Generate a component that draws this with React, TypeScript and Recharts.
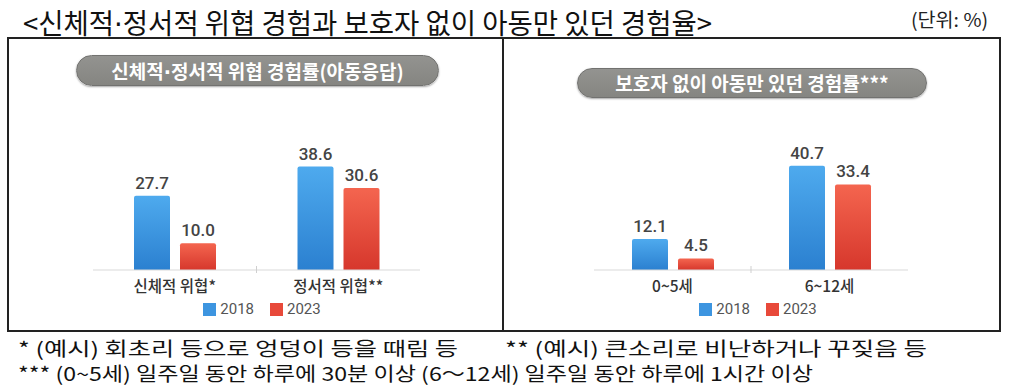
import React from 'react';
import { BarChart, Bar, XAxis, YAxis, LabelList, Legend } from 'recharts';

const years = ['2018', '2023'];
const seriesColors = ['#3d95e0', '#e8493a'];

const leftCategories = ['신체적 위협*', '정서적 위협**'];
const left2018 = [27.7, 38.6];
const left2023 = [10.0, 30.6];

const rightCategories = ['0~5세', '6~12세'];
const right2018 = [12.1, 40.7];
const right2023 = [4.5, 33.4];

const yDomain = [0, 50];

const titleParts = ['<신체적', '·', '정서적 위협 경험과 보호자 없이 아동만 있던 경험율>'];
const unitText = '(단위: %)';
const leftPanelTitleParts = ['신체적', '·', '정서적 위협 경험률(아동응답)'];
const rightPanelTitle = '보호자 없이 아동만 있던 경험률***';
const note1a = '* (예시) 회초리 등으로 엉덩이 등을 때림 등';
const note1b = '** (예시) 큰소리로 비난하거나 꾸짖음 등';
const note2 = '*** (0~5세) 일주일 동안 하루에 30분 이상 (6～12세) 일주일 동안 하루에 1시간 이상';

const KR = '"Noto Sans CJK KR", "Noto Sans", sans-serif';
const DOTFONT = '"DejaVu Sans", sans-serif';

const buildRows = (cats: string[], a: number[], b: number[]) =>
  cats.map((name, i) => ({ name, y2018: a[i], y2023: b[i] }));

const CatTick = (props: any) => {
  const { x, y, payload, index } = props;
  const off = payload && typeof payload.offset === 'number' ? payload.offset : null;
  return (
    <g>
      <text
        x={x}
        y={y + 22}
        textAnchor="middle"
        fontFamily={KR}
        fontSize={15.5}
        fontWeight={500}
        fill="#333"
      >
        {payload.value}
      </text>
      {index === 0 && off !== null ? (
        <line x1={x + off} x2={x + off} y1={y - 4} y2={y + 3} stroke="#cfcfcf" strokeWidth={1} />
      ) : null}
    </g>
  );
};

const LegendContent = (shift: number) => () => (
  <div
    style={{
      display: 'flex',
      justifyContent: 'center',
      alignItems: 'center',
      marginLeft: shift,
      fontFamily: 'Roboto, sans-serif',
      fontSize: 15,
      color: '#555',
      lineHeight: '18px',
    }}
  >
    {years.map((yr, i) => (
      <div key={yr} style={{ display: 'flex', alignItems: 'center', marginRight: i === 0 ? 16 : 0 }}>
        <div style={{ width: 13, height: 13, background: seriesColors[i], marginRight: 4 }} />
        <span>{yr}</span>
      </div>
    ))}
  </div>
);

const Panel = (props: {
  rows: any[];
  left: number;
  width: number;
  margin: any;
  legendShift: number;
  idp: string;
}) => {
  const { rows, left, width, margin, legendShift, idp } = props;
  return (
    <div style={{ position: 'absolute', left, top: 40 }}>
      <BarChart width={width} height={289} data={rows} margin={margin} barGap={10} barSize={36}>
        <defs>
          <linearGradient id={idp + 'blue'} x1="0" y1="0" x2="0" y2="1">
            <stop offset="0%" stopColor="#4eaaee" />
            <stop offset="100%" stopColor="#2b80d0" />
          </linearGradient>
          <linearGradient id={idp + 'red'} x1="0" y1="0" x2="0" y2="1">
            <stop offset="0%" stopColor="#f4654f" />
            <stop offset="100%" stopColor="#d6372c" />
          </linearGradient>
        </defs>
        <XAxis
          dataKey="name"
          axisLine={{ stroke: '#d9d9d9' }}
          tickLine={false}
          tickSize={0}
          tickMargin={0}
          height={30}
          interval={0}
          tick={<CatTick />}
        />
        <YAxis hide width={0} domain={yDomain} />
        <Legend
          verticalAlign="middle"
          align="center"
          content={LegendContent(legendShift)}
          wrapperStyle={{ top: 260, left: 0, width, height: 18 }}
        />
        <Bar dataKey="y2018" name={years[0]} fill={`url(#${idp}blue)`} radius={[2, 2, 0, 0]} isAnimationActive={false}>
          <LabelList
            dataKey="y2018"
            position="top"
            offset={7}
            formatter={(v: any) => Number(v).toFixed(1)}
            style={{ fontFamily: 'Roboto, sans-serif', fontSize: 17, fontWeight: 500, fill: '#444' }}
          />
        </Bar>
        <Bar dataKey="y2023" name={years[1]} fill={`url(#${idp}red)`} radius={[2, 2, 0, 0]} isAnimationActive={false}>
          <LabelList
            dataKey="y2023"
            position="top"
            offset={7}
            formatter={(v: any) => Number(v).toFixed(1)}
            style={{ fontFamily: 'Roboto, sans-serif', fontSize: 17, fontWeight: 500, fill: '#444' }}
          />
        </Bar>
      </BarChart>
    </div>
  );
};

const Pill = (props: { children: any; left: number; top: number; width: number; height: number }) => (
  <div
    style={{
      position: 'absolute',
      left: props.left,
      top: props.top,
      width: props.width,
      height: props.height,
      borderRadius: props.height / 2,
      background: 'linear-gradient(#939390, #858581)',
      border: '1px solid #727270',
      boxSizing: 'border-box',
      boxShadow: '0 1px 2px rgba(0,0,0,0.35)',
      color: '#fff',
      fontFamily: KR,
      fontWeight: 700,
      fontSize: 19,
      lineHeight: props.height - 2 + 'px',
      textAlign: 'center',
      whiteSpace: 'nowrap',
    }}
  >
    {props.children}
  </div>
);

export default function App() {
  const leftRows = buildRows(leftCategories, left2018, left2023);
  const rightRows = buildRows(rightCategories, right2018, right2023);
  return (
    <div
      style={{
        position: 'absolute',
        left: 0,
        top: 0,
        width: 1009,
        height: 389,
        background: '#fff',
        overflow: 'hidden',
      }}
    >
      <svg width={1009} height={389} style={{ position: 'absolute', left: 0, top: 0 }}>
        <text x={23} y={34} fontFamily={KR} fontSize={28} fill="#111" textLength={689} lengthAdjust="spacingAndGlyphs">
          {titleParts[0]}
          <tspan fontFamily={DOTFONT}>{titleParts[1]}</tspan>
          {titleParts[2]}
        </text>
        <text x={911} y={27} fontFamily={KR} fontSize={19} fill="#222" textLength={77} lengthAdjust="spacingAndGlyphs">
          {unitText}
        </text>
        <text x={18} y={356} fontFamily={KR} fontSize={19} fill="#111" textLength={440} lengthAdjust="spacingAndGlyphs">
          {note1a}
        </text>
        <text x={505} y={356} fontFamily={KR} fontSize={19} fill="#111" textLength={422} lengthAdjust="spacingAndGlyphs">
          {note1b}
        </text>
        <text x={18} y={381} fontFamily={KR} fontSize={19} fill="#111" textLength={795} lengthAdjust="spacingAndGlyphs">
          {note2}
        </text>
      </svg>
      <div
        style={{
          position: 'absolute',
          left: 7,
          top: 37,
          width: 994,
          height: 295,
          border: '2px solid #222',
          boxSizing: 'border-box',
        }}
      />
      <div style={{ position: 'absolute', left: 502, top: 37, width: 2, height: 295, background: '#222' }} />
      <Pill left={76} top={55} width={363} height={31}>
        {leftPanelTitleParts[0]}
        <span style={{ fontFamily: DOTFONT }}>{leftPanelTitleParts[1]}</span>
        {leftPanelTitleParts[2]}
      </Pill>
      <Pill left={577} top={68} width={350} height={30}>
        {rightPanelTitle}
      </Pill>
      <Panel
        rows={leftRows}
        left={9}
        width={492}
        margin={{ top: 96, right: 81, bottom: 29, left: 84 }}
        legendShift={14}
        idp="L"
      />
      <Panel
        rows={rightRows}
        left={505}
        width={493}
        margin={{ top: 102, right: 90, bottom: 29, left: 89 }}
        legendShift={13}
        idp="R"
      />
    </div>
  );
}
